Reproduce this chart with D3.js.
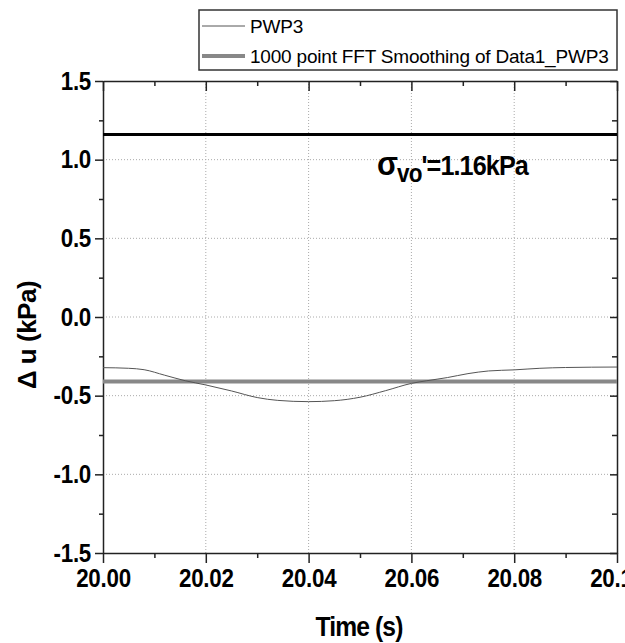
<!DOCTYPE html>
<html>
<head>
<meta charset="utf-8">
<style>
  body { margin: 0; background: #fff; }
  svg { display: block; }
  .tick text { font-family: "Liberation Sans", Arial, sans-serif; font-weight: bold; font-size: 26px; letter-spacing: -0.3px; fill: #000; }
  .domain { stroke: #222; stroke-width: 1.5; }
  .tick line { stroke: #222; stroke-width: 1.5; }
  .bold { font-family: "Liberation Sans", Arial, sans-serif; font-weight: bold; }
</style>
</head>
<body>
<div id="chart"></div>
<script src="https://d3js.org/d3.v7.min.js"></script>
<script>
// PWP3 trace
const pwpTime  = [20.000, 20.005, 20.008, 20.012, 20.016, 20.020, 20.025, 20.030, 20.034, 20.040, 20.045, 20.050, 20.055, 20.060, 20.063, 20.067, 20.071, 20.075, 20.080, 20.085, 20.090, 20.100];
const pwpValue = [-0.322, -0.326, -0.335, -0.370, -0.405, -0.432, -0.470, -0.512, -0.530, -0.538, -0.532, -0.510, -0.468, -0.422, -0.405, -0.385, -0.360, -0.343, -0.336, -0.326, -0.321, -0.318];
// smoothed curve is flat
const smoothTime  = [20.00, 20.10];
const smoothValue = [-0.41, -0.41];
// effective stress line
const sigmaValue = 1.16;

const xTicks = [20.00, 20.02, 20.04, 20.06, 20.08, 20.10];
const xMinor = [20.01, 20.03, 20.05, 20.07, 20.09];
const yTicks = [-1.5, -1.0, -0.5, 0.0, 0.5, 1.0, 1.5];
const yMinor = [-1.25, -0.75, -0.25, 0.25, 0.75, 1.25];

const legendNames = ["PWP3", "1000 point FFT Smoothing of Data1_PWP3"];

const W = 625, H = 643;
const margin = { top: 81, right: 8, bottom: 90, left: 103 };
const w = W - margin.left - margin.right;
const h = H - margin.top - margin.bottom;
const squeeze = 0.86; // the original font is condensed

const svg = d3.select("#chart").append("svg")
    .attr("width", W)
    .attr("height", H);

const g = svg.append("g")
    .attr("transform", `translate(${margin.left},${margin.top})`);

const x = d3.scaleLinear().domain([20.00, 20.10]).range([0, w]);
const y = d3.scaleLinear().domain([-1.5, 1.5]).range([h, 0]);

// dotted grid
g.selectAll(".gx").data(xTicks.slice(1, -1)).enter().append("line")
    .attr("x1", d => x(d)).attr("x2", d => x(d))
    .attr("y1", 0).attr("y2", h)
    .attr("stroke", "#aaa").attr("stroke-width", 1).attr("stroke-dasharray", "1,2");
g.selectAll(".gy").data(yTicks.slice(1, -1)).enter().append("line")
    .attr("x1", 0).attr("x2", w)
    .attr("y1", d => y(d)).attr("y2", d => y(d))
    .attr("stroke", "#aaa").attr("stroke-width", 1).attr("stroke-dasharray", "1,2");

// axes
const fmtX = d => d.toFixed(2);
const fmtY = d => d.toFixed(1);

g.append("g").attr("transform", `translate(0,${h})`)
    .call(d3.axisBottom(x).tickValues(xTicks).tickFormat(fmtX).tickSize(10).tickPadding(6).tickSizeOuter(0))
    .selectAll(".tick text").attr("transform", `scale(${squeeze},1)`);
g.append("g").attr("transform", `translate(0,${h})`)
    .call(d3.axisBottom(x).tickValues(xMinor).tickFormat("").tickSize(5).tickSizeOuter(0))
    .select(".domain").remove();

g.append("g")
    .call(d3.axisLeft(y).tickValues(yTicks).tickFormat(fmtY).tickSize(8).tickPadding(3).tickSizeOuter(0))
    .selectAll(".tick text")
    .attr("x", -12 / squeeze)
    .attr("transform", `scale(${squeeze},1)`);
g.append("g")
    .call(d3.axisLeft(y).tickValues(yMinor).tickFormat("").tickSize(4).tickSizeOuter(0))
    .select(".domain").remove();

// top & right mirrors, ticks inward
g.append("g")
    .call(d3.axisTop(x).tickValues(xTicks).tickFormat("").tickSize(-10).tickSizeOuter(0));
g.append("g")
    .call(d3.axisTop(x).tickValues(xMinor).tickFormat("").tickSize(-5).tickSizeOuter(0))
    .select(".domain").remove();
g.append("g").attr("transform", `translate(${w},0)`)
    .call(d3.axisRight(y).tickValues(yTicks).tickFormat("").tickSize(-7).tickSizeOuter(0));
g.append("g").attr("transform", `translate(${w},0)`)
    .call(d3.axisRight(y).tickValues(yMinor).tickFormat("").tickSize(-5).tickSizeOuter(0))
    .select(".domain").remove();

// data lines
const line = d3.line().x(d => x(d[0])).y(d => y(d[1])).curve(d3.curveMonotoneX);

g.append("path")
    .datum(smoothTime.map((t, i) => [t, smoothValue[i]]))
    .attr("d", line)
    .attr("fill", "none").attr("stroke", "#888").attr("stroke-width", 4);

g.append("path")
    .datum(pwpTime.map((t, i) => [t, pwpValue[i]]))
    .attr("d", line)
    .attr("fill", "none").attr("stroke", "#555").attr("stroke-width", 1);

g.append("line")
    .attr("x1", 0).attr("x2", w)
    .attr("y1", y(sigmaValue)).attr("y2", y(sigmaValue))
    .attr("stroke", "#000").attr("stroke-width", 3);

// annotation
const ann = g.append("text")
    .attr("class", "bold")
    .attr("transform", `translate(274,94) scale(0.9,1)`)
    .attr("font-size", 28)
    .attr("letter-spacing", "-1px");
ann.append("tspan").attr("font-size", 34).text("σ");
ann.append("tspan").attr("dy", 7).attr("font-size", 25).text("vo");
ann.append("tspan").attr("dy", -7).text("'=1.16kPa");

// axis titles
svg.append("text")
    .attr("class", "bold")
    .attr("transform", `translate(359,636) scale(0.88,1)`)
    .attr("text-anchor", "middle")
    .attr("font-size", 28)
    .attr("letter-spacing", "-1px")
    .text("Time (s)");

svg.append("text")
    .attr("class", "bold")
    .attr("transform", "translate(36,335) rotate(-90)")
    .attr("text-anchor", "middle")
    .attr("font-size", 26)
    .attr("letter-spacing", "-0.5px")
    .text("Δ u (kPa)");

// legend
const lg = svg.append("g");
lg.append("rect")
    .attr("x", 199).attr("y", 10).attr("width", 418).attr("height", 60)
    .attr("fill", "#fff").attr("stroke", "#333").attr("stroke-width", 1.5);

const legendStyles = [{ c: "#555", sw: 1 }, { c: "#888", sw: 4 }];
legendNames.forEach((name, i) => {
    const ly = 26 + i * 30;
    lg.append("line")
        .attr("x1", 202).attr("x2", 245).attr("y1", ly).attr("y2", ly)
        .attr("stroke", legendStyles[i].c).attr("stroke-width", legendStyles[i].sw);
    lg.append("text")
        .attr("x", 250).attr("y", ly + 7)
        .attr("font-family", "Liberation Sans, Arial, sans-serif")
        .attr("font-size", 19)
        .attr("letter-spacing", "-0.2px")
        .text(name);
});
</script>
</body>
</html>
